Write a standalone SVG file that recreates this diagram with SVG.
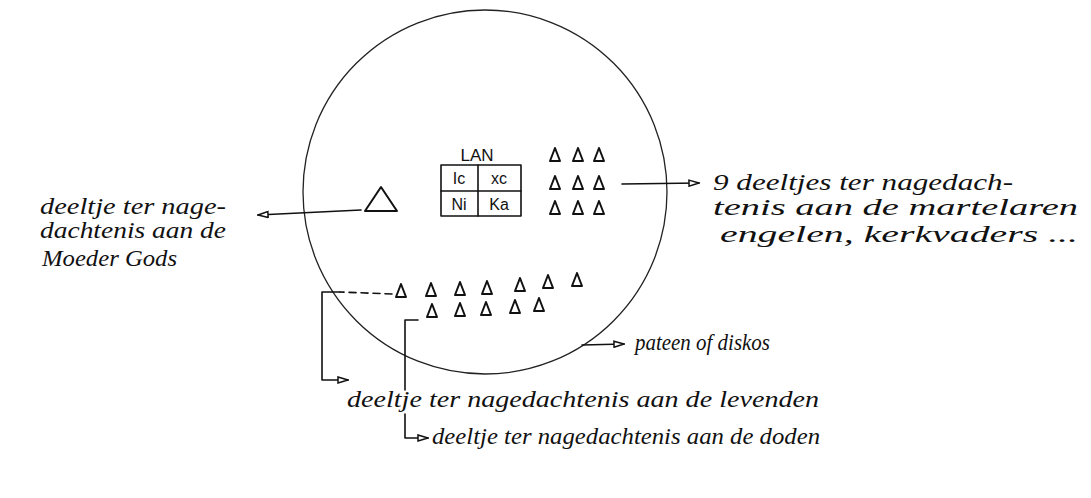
<svg xmlns="http://www.w3.org/2000/svg" xmlns:xlink="http://www.w3.org/1999/xlink" width="1091" height="498" viewBox="0 0 1091 498">
<style>
.hand{font-family:"Liberation Serif","DejaVu Serif",serif;font-style:italic;font-size:23px;fill:#111}
.print{font-family:"Liberation Sans","DejaVu Sans",sans-serif;fill:#111}
.ln{fill:none;stroke:#111;stroke-width:1.6;stroke-linecap:round;stroke-linejoin:round}
.tri{fill:none;stroke:#111;stroke-width:2;stroke-linejoin:round}
</style>
<defs>
<marker id="oa" viewBox="0 0 12 8" refX="11" refY="4" markerWidth="12" markerHeight="8" markerUnits="userSpaceOnUse" orient="auto">
<path d="M1,1 L11,4 L1,7 Z" fill="#fff" stroke="#111" stroke-width="1.5"/>
</marker>
<path id="st" d="M0,-13 L-5,0 L5,0 Z"/>
</defs>
<rect width="1091" height="498" fill="#fff"/>

<g id="paten">
<circle cx="485" cy="192" r="182" fill="none" stroke="#222" stroke-width="1.3"/>
</g>

<g id="lamb">
<text class="print" x="477" y="161" font-size="17" text-anchor="middle">LAN</text>
<rect x="441" y="165" width="80" height="51" class="ln"/>
<line x1="478" y1="165" x2="478" y2="216" class="ln"/>
<line x1="441" y1="191" x2="521" y2="191" class="ln"/>
<text class="print" x="459" y="184" font-size="16" text-anchor="middle">Ic</text>
<text class="print" x="499" y="184" font-size="16" text-anchor="middle">xc</text>
<text class="print" x="459" y="210" font-size="16" text-anchor="middle">Ni</text>
<text class="print" x="499" y="210" font-size="16" text-anchor="middle">Ka</text>
</g>

<g id="mother-of-god">
<path d="M381,187 L365,211 L397,211 Z" class="tri"/>
</g>

<g id="nine-particles" class="tri">
<use xlink:href="#st" x="555" y="161"/><use xlink:href="#st" x="578" y="161"/><use xlink:href="#st" x="599" y="161"/>
<use xlink:href="#st" x="555" y="189"/><use xlink:href="#st" x="578" y="189"/><use xlink:href="#st" x="599" y="189"/>
<use xlink:href="#st" x="555" y="214"/><use xlink:href="#st" x="578" y="214"/><use xlink:href="#st" x="599" y="214"/>
</g>

<g id="living" class="tri">
<use xlink:href="#st" x="401" y="297"/><use xlink:href="#st" x="431" y="296"/><use xlink:href="#st" x="460" y="295"/>
<use xlink:href="#st" x="487" y="294"/><use xlink:href="#st" x="520" y="291"/><use xlink:href="#st" x="548" y="288"/>
<use xlink:href="#st" x="577" y="286"/>
</g>
<g id="dead" class="tri">
<use xlink:href="#st" x="432" y="317"/><use xlink:href="#st" x="460" y="316"/><use xlink:href="#st" x="486" y="315"/>
<use xlink:href="#st" x="515" y="313"/><use xlink:href="#st" x="539" y="311"/>
</g>

<g id="connectors">
<path d="M361,210 L258,215" class="ln" marker-end="url(#oa)"/>
<path d="M622,184 L699,183" class="ln" marker-end="url(#oa)"/>
<path d="M582,345 L624,344" class="ln" marker-end="url(#oa)"/>
<path d="M392,294 L340,292" class="ln" stroke-dasharray="7 5"/>
<path d="M340,292 L322,292 L322,380 L348,380" class="ln" marker-end="url(#oa)"/>
<path d="M418,320 L405,320 L405,390" class="ln"/>
<path d="M405,414 L405,438 L428,438" class="ln" marker-end="url(#oa)"/>
</g>

<g id="label-left">
<text class="hand" x="40" y="214" textLength="186" lengthAdjust="spacingAndGlyphs">deeltje ter nage-</text>
<text class="hand" x="40" y="238" textLength="186" lengthAdjust="spacingAndGlyphs">dachtenis aan de</text>
<text class="hand" x="42" y="266" textLength="135" lengthAdjust="spacingAndGlyphs">Moeder Gods</text>
</g>
<g id="label-right">
<text class="hand" x="713" y="190" textLength="300" lengthAdjust="spacingAndGlyphs">9 deeltjes ter nagedach-</text>
<text class="hand" x="713" y="215" textLength="365" lengthAdjust="spacingAndGlyphs">tenis aan de martelaren</text>
<text class="hand" x="720" y="242" textLength="358" lengthAdjust="spacingAndGlyphs">engelen, kerkvaders ...</text>
</g>
<g id="label-paten">
<text class="hand" x="635" y="350" textLength="135" lengthAdjust="spacingAndGlyphs">pateen of diskos</text>
</g>
<g id="label-living">
<text class="hand" x="347" y="407" textLength="472" lengthAdjust="spacingAndGlyphs">deeltje ter nagedachtenis aan de levenden</text>
</g>
<g id="label-dead">
<text class="hand" x="432" y="444" textLength="388" lengthAdjust="spacingAndGlyphs">deeltje ter nagedachtenis aan de doden</text>
</g>
</svg>
